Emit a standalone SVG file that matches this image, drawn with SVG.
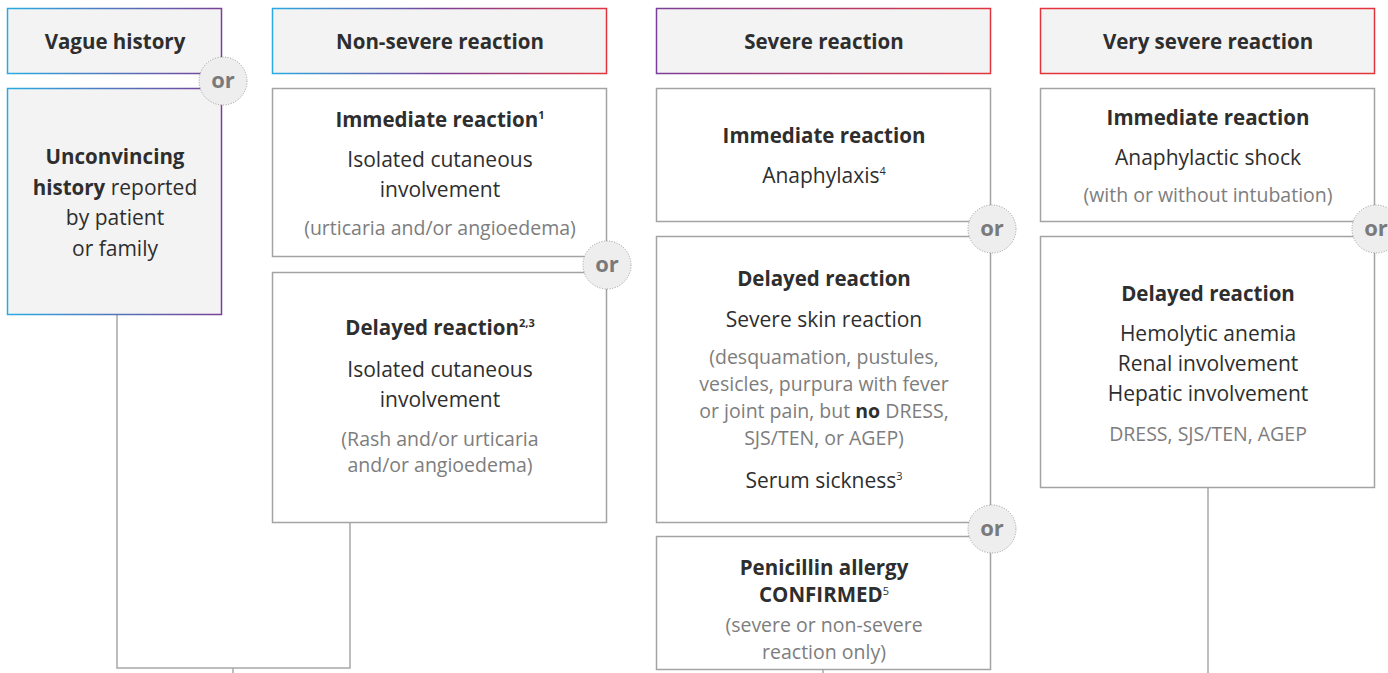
<svg xmlns="http://www.w3.org/2000/svg" width="1388" height="673" viewBox="0 0 1388 673">
<defs>
<linearGradient id="gBP" x1="0" y1="0" x2="1" y2="0"><stop offset="0" stop-color="#29abe2"/><stop offset="1" stop-color="#7b3f98"/></linearGradient>
<linearGradient id="gBPR" x1="0" y1="0" x2="1" y2="0"><stop offset="0" stop-color="#29abe2"/><stop offset="0.5" stop-color="#7b3f98"/><stop offset="1" stop-color="#e2343d"/></linearGradient>
<linearGradient id="gPR" x1="0" y1="0" x2="1" y2="0"><stop offset="0" stop-color="#7b3f98"/><stop offset="1" stop-color="#e2343d"/></linearGradient>
</defs>
<style>
.hdr{fill:#f3f3f3;stroke-width:1.5}
.box{fill:#ffffff;stroke:#a3a3a3;stroke-width:1.5}
.ln{fill:none;stroke:#a8a8a8;stroke-width:1.5}
.orc{fill:#eeeeee;stroke:#9a9a9a;stroke-width:1;stroke-dasharray:1 1.6}
.ort{font-family:"Open Sans","Liberation Sans",sans-serif;font-weight:700;font-size:22px;fill:#7a7a7a;text-anchor:middle}
text{font-family:"Open Sans","Liberation Sans",sans-serif;text-anchor:middle}
.h{font-size:20.5px;font-weight:700;fill:#2e2e2e}
.b{font-size:20.5px;font-weight:700;fill:#2e2e2e}
.t{font-size:21px;fill:#2e2e2e}
.g{font-size:19.5px;fill:#7d7d7d}
.sup{font-size:11px}
</style>

<g id="connectors">
<polyline class="ln" points="117,315 117,668 350,668 350,522"/>
<line class="ln" x1="233" y1="668" x2="233" y2="673"/>
<line class="ln" x1="823" y1="670" x2="823" y2="673"/>
<line class="ln" x1="1208" y1="488" x2="1208" y2="673"/>
</g>

<g id="hdr-vague">
<rect class="hdr" x="7.5" y="8.5" width="214" height="65" stroke="url(#gBP)"/>
<text class="h" x="115" y="49">Vague history</text>
</g>
<g id="hdr-nonsevere">
<rect class="hdr" x="272.5" y="8.5" width="334" height="65" stroke="url(#gBPR)"/>
<text class="h" x="440" y="49">Non-severe reaction</text>
</g>
<g id="hdr-severe">
<rect class="hdr" x="656.5" y="8.5" width="334" height="65" stroke="url(#gPR)"/>
<text class="h" x="824" y="49">Severe reaction</text>
</g>
<g id="hdr-verysevere">
<rect class="hdr" x="1040.5" y="8.5" width="334" height="65" stroke="#e2343d"/>
<text class="h" x="1208" y="49">Very severe reaction</text>
</g>

<g id="vague-unconvincing">
<rect class="hdr" x="7.5" y="88.5" width="214" height="226" stroke="url(#gBP)"/>
<text class="b" x="115" y="164">Unconvincing</text>
<text class="t" x="115" y="195"><tspan font-weight="700" font-size="20.5px">history</tspan> reported</text>
<text class="t" x="115" y="225">by patient</text>
<text class="t" x="115" y="256">or family</text>
</g>

<g id="ns-immediate">
<rect class="box" x="272.5" y="88.5" width="334" height="168"/>
<text class="b" x="440" y="127">Immediate reaction<tspan class="sup" dy="-8">1</tspan></text>
<text class="t" x="440" y="167">Isolated cutaneous</text>
<text class="t" x="440" y="197">involvement</text>
<text class="g" x="440" y="235">(urticaria and/or angioedema)</text>
</g>
<g id="ns-delayed">
<rect class="box" x="272.5" y="272.5" width="334" height="250"/>
<text class="b" x="440" y="335">Delayed reaction<tspan class="sup" dy="-8">2,3</tspan></text>
<text class="t" x="440" y="377">Isolated cutaneous</text>
<text class="t" x="440" y="407">involvement</text>
<text class="g" x="440" y="446">(Rash and/or urticaria</text>
<text class="g" x="440" y="472">and/or angioedema)</text>
</g>

<g id="s-immediate">
<rect class="box" x="656.5" y="88.5" width="334" height="133"/>
<text class="b" x="824" y="143">Immediate reaction</text>
<text class="t" x="824" y="183">Anaphylaxis<tspan class="sup" dy="-8">4</tspan></text>
</g>
<g id="s-delayed">
<rect class="box" x="656.5" y="236.5" width="334" height="286"/>
<text class="b" x="824" y="286">Delayed reaction</text>
<text class="t" x="824" y="327">Severe skin reaction</text>
<text class="g" x="824" y="364">(desquamation, pustules,</text>
<text class="g" x="824" y="391">vesicles, purpura with fever</text>
<text class="g" x="824" y="418">or joint pain, but <tspan font-weight="700" fill="#2e2e2e">no</tspan> DRESS,</text>
<text class="g" x="824" y="445">SJS/TEN, or AGEP)</text>
<text class="t" x="824" y="488">Serum sickness<tspan class="sup" dy="-8">3</tspan></text>
</g>
<g id="s-penicillin">
<rect class="box" x="656.5" y="536.5" width="334" height="133"/>
<text class="b" x="824" y="575">Penicillin allergy</text>
<text class="b" x="824" y="602" font-size="13px">CONFIRMED<tspan class="sup" dy="-7" font-weight="400">5</tspan></text>
<text class="g" x="824" y="632">(severe or non-severe</text>
<text class="g" x="824" y="659">reaction only)</text>
</g>

<g id="vs-immediate">
<rect class="box" x="1040.5" y="88.5" width="334" height="133"/>
<text class="b" x="1208" y="125">Immediate reaction</text>
<text class="t" x="1208" y="165">Anaphylactic shock</text>
<text class="g" x="1208" y="202">(with or without intubation)</text>
</g>
<g id="vs-delayed">
<rect class="box" x="1040.5" y="236.5" width="334" height="251"/>
<text class="b" x="1208" y="301">Delayed reaction</text>
<text class="t" x="1208" y="341">Hemolytic anemia</text>
<text class="t" x="1208" y="371">Renal involvement</text>
<text class="t" x="1208" y="401">Hepatic involvement</text>
<text class="g" x="1208" y="441">DRESS, SJS/TEN, AGEP</text>
</g>

<g id="or-1"><circle class="orc" cx="223" cy="81" r="24"/><text class="ort" x="223" y="88">or</text></g>
<g id="or-2"><circle class="orc" cx="607" cy="265" r="24"/><text class="ort" x="607" y="272">or</text></g>
<g id="or-3"><circle class="orc" cx="992" cy="229" r="24"/><text class="ort" x="992" y="236">or</text></g>
<g id="or-4"><circle class="orc" cx="992" cy="529" r="24"/><text class="ort" x="992" y="536">or</text></g>
<g id="or-5"><circle class="orc" cx="1376" cy="229" r="24"/><text class="ort" x="1376" y="236">or</text></g>
</svg>
